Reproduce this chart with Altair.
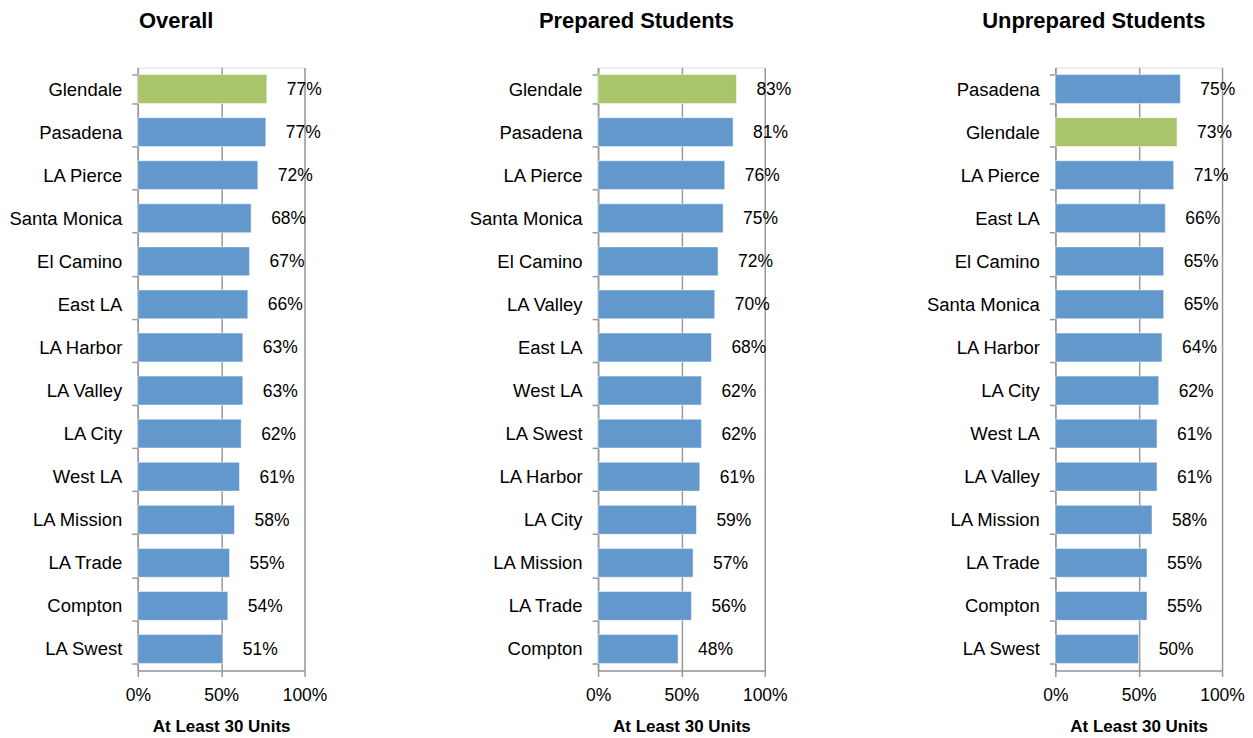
import altair as alt
import pandas as pd

overall_names = ["Glendale", "Pasadena", "LA Pierce", "Santa Monica", "El Camino", "East LA",
                 "LA Harbor", "LA Valley", "LA City", "West LA", "LA Mission", "LA Trade",
                 "Compton", "LA Swest"]
overall_vals = [77.4, 76.8, 72, 68, 67, 66, 63, 63, 62, 61, 58, 55, 54, 51]

prepared_names = ["Glendale", "Pasadena", "LA Pierce", "Santa Monica", "El Camino", "LA Valley",
                  "East LA", "West LA", "LA Swest", "LA Harbor", "LA City", "LA Mission",
                  "LA Trade", "Compton"]
prepared_vals = [83, 81, 76, 75, 72, 70, 68, 62, 62, 61, 59, 57, 56, 48]

unprepared_names = ["Pasadena", "Glendale", "LA Pierce", "East LA", "El Camino", "Santa Monica",
                    "LA Harbor", "LA City", "West LA", "LA Valley", "LA Mission", "LA Trade",
                    "Compton", "LA Swest"]
unprepared_vals = [75, 73, 71, 66, 65, 65, 64, 62, 61, 61, 58, 55, 55, 50]

FONT = "Liberation Sans"
BLUE = "#6298CC"
GREEN = "#A9C46A"
GRAY = "#999999"


def panel(title, names, vals):
    df = pd.DataFrame({"college": names, "value": [v / 100 for v in vals]})
    df["label"] = [f"{round(v):d}%" for v in vals]
    y = alt.Y("college:N", sort=names, title=None,
              scale=alt.Scale(paddingInner=0.33, paddingOuter=0.165),
              axis=alt.Axis(labelFontSize=18.5, labelColor="black", labelFont=FONT,
                            domainColor=GRAY, domainWidth=1.5, tickColor=GRAY,
                            tickWidth=1.5, tickSize=6, tickBand="extent",
                            labelPadding=10))
    x = alt.X("value:Q", title="At Least 30 Units",
              scale=alt.Scale(domain=[0, 1], nice=False),
              axis=alt.Axis(values=[0, 0.5, 1], format=".0%", grid=True,
                            gridColor=GRAY, gridWidth=1.5, domainColor=GRAY,
                            domainWidth=1.5, tickColor=GRAY, tickWidth=1.5,
                            tickSize=6, labelFontSize=17.5, labelColor="black",
                            labelFont=FONT, labelPadding=10, labelFlush=False,
                            titleFont=FONT, titleFontSize=17,
                            titleFontWeight="bold", titleColor="black",
                            titlePadding=15))
    base = alt.Chart(df)
    bars = base.mark_bar(stroke="white", strokeWidth=0.5).encode(
        x=x, y=y,
        color=alt.condition(alt.datum.college == "Glendale",
                            alt.value(GREEN), alt.value(BLUE)),
    )
    text = base.mark_text(align="left", baseline="middle", dx=20, dy=1,
                          fontSize=17.5, font=FONT, color="black").encode(
        x="value:Q", y=alt.Y("college:N", sort=names), text="label:N")
    return (bars + text).properties(
        width=167, height=604,
        title=alt.TitleParams(title, fontSize=22, font=FONT, fontWeight="bold",
                              color="black", anchor="middle", offset=26, dx=-45),
    )


left = alt.hconcat(
    panel("Overall", overall_names, overall_vals),
    panel("Prepared Students", prepared_names, prepared_vals),
    spacing=141,
)
chart = alt.hconcat(
    left,
    panel("Unprepared Students", unprepared_names, unprepared_vals),
    spacing=133,
).configure_view(stroke=None).configure(background="white", padding=0)

chart.save("out.html", embed_options={"renderer": "svg", "actions": False})
